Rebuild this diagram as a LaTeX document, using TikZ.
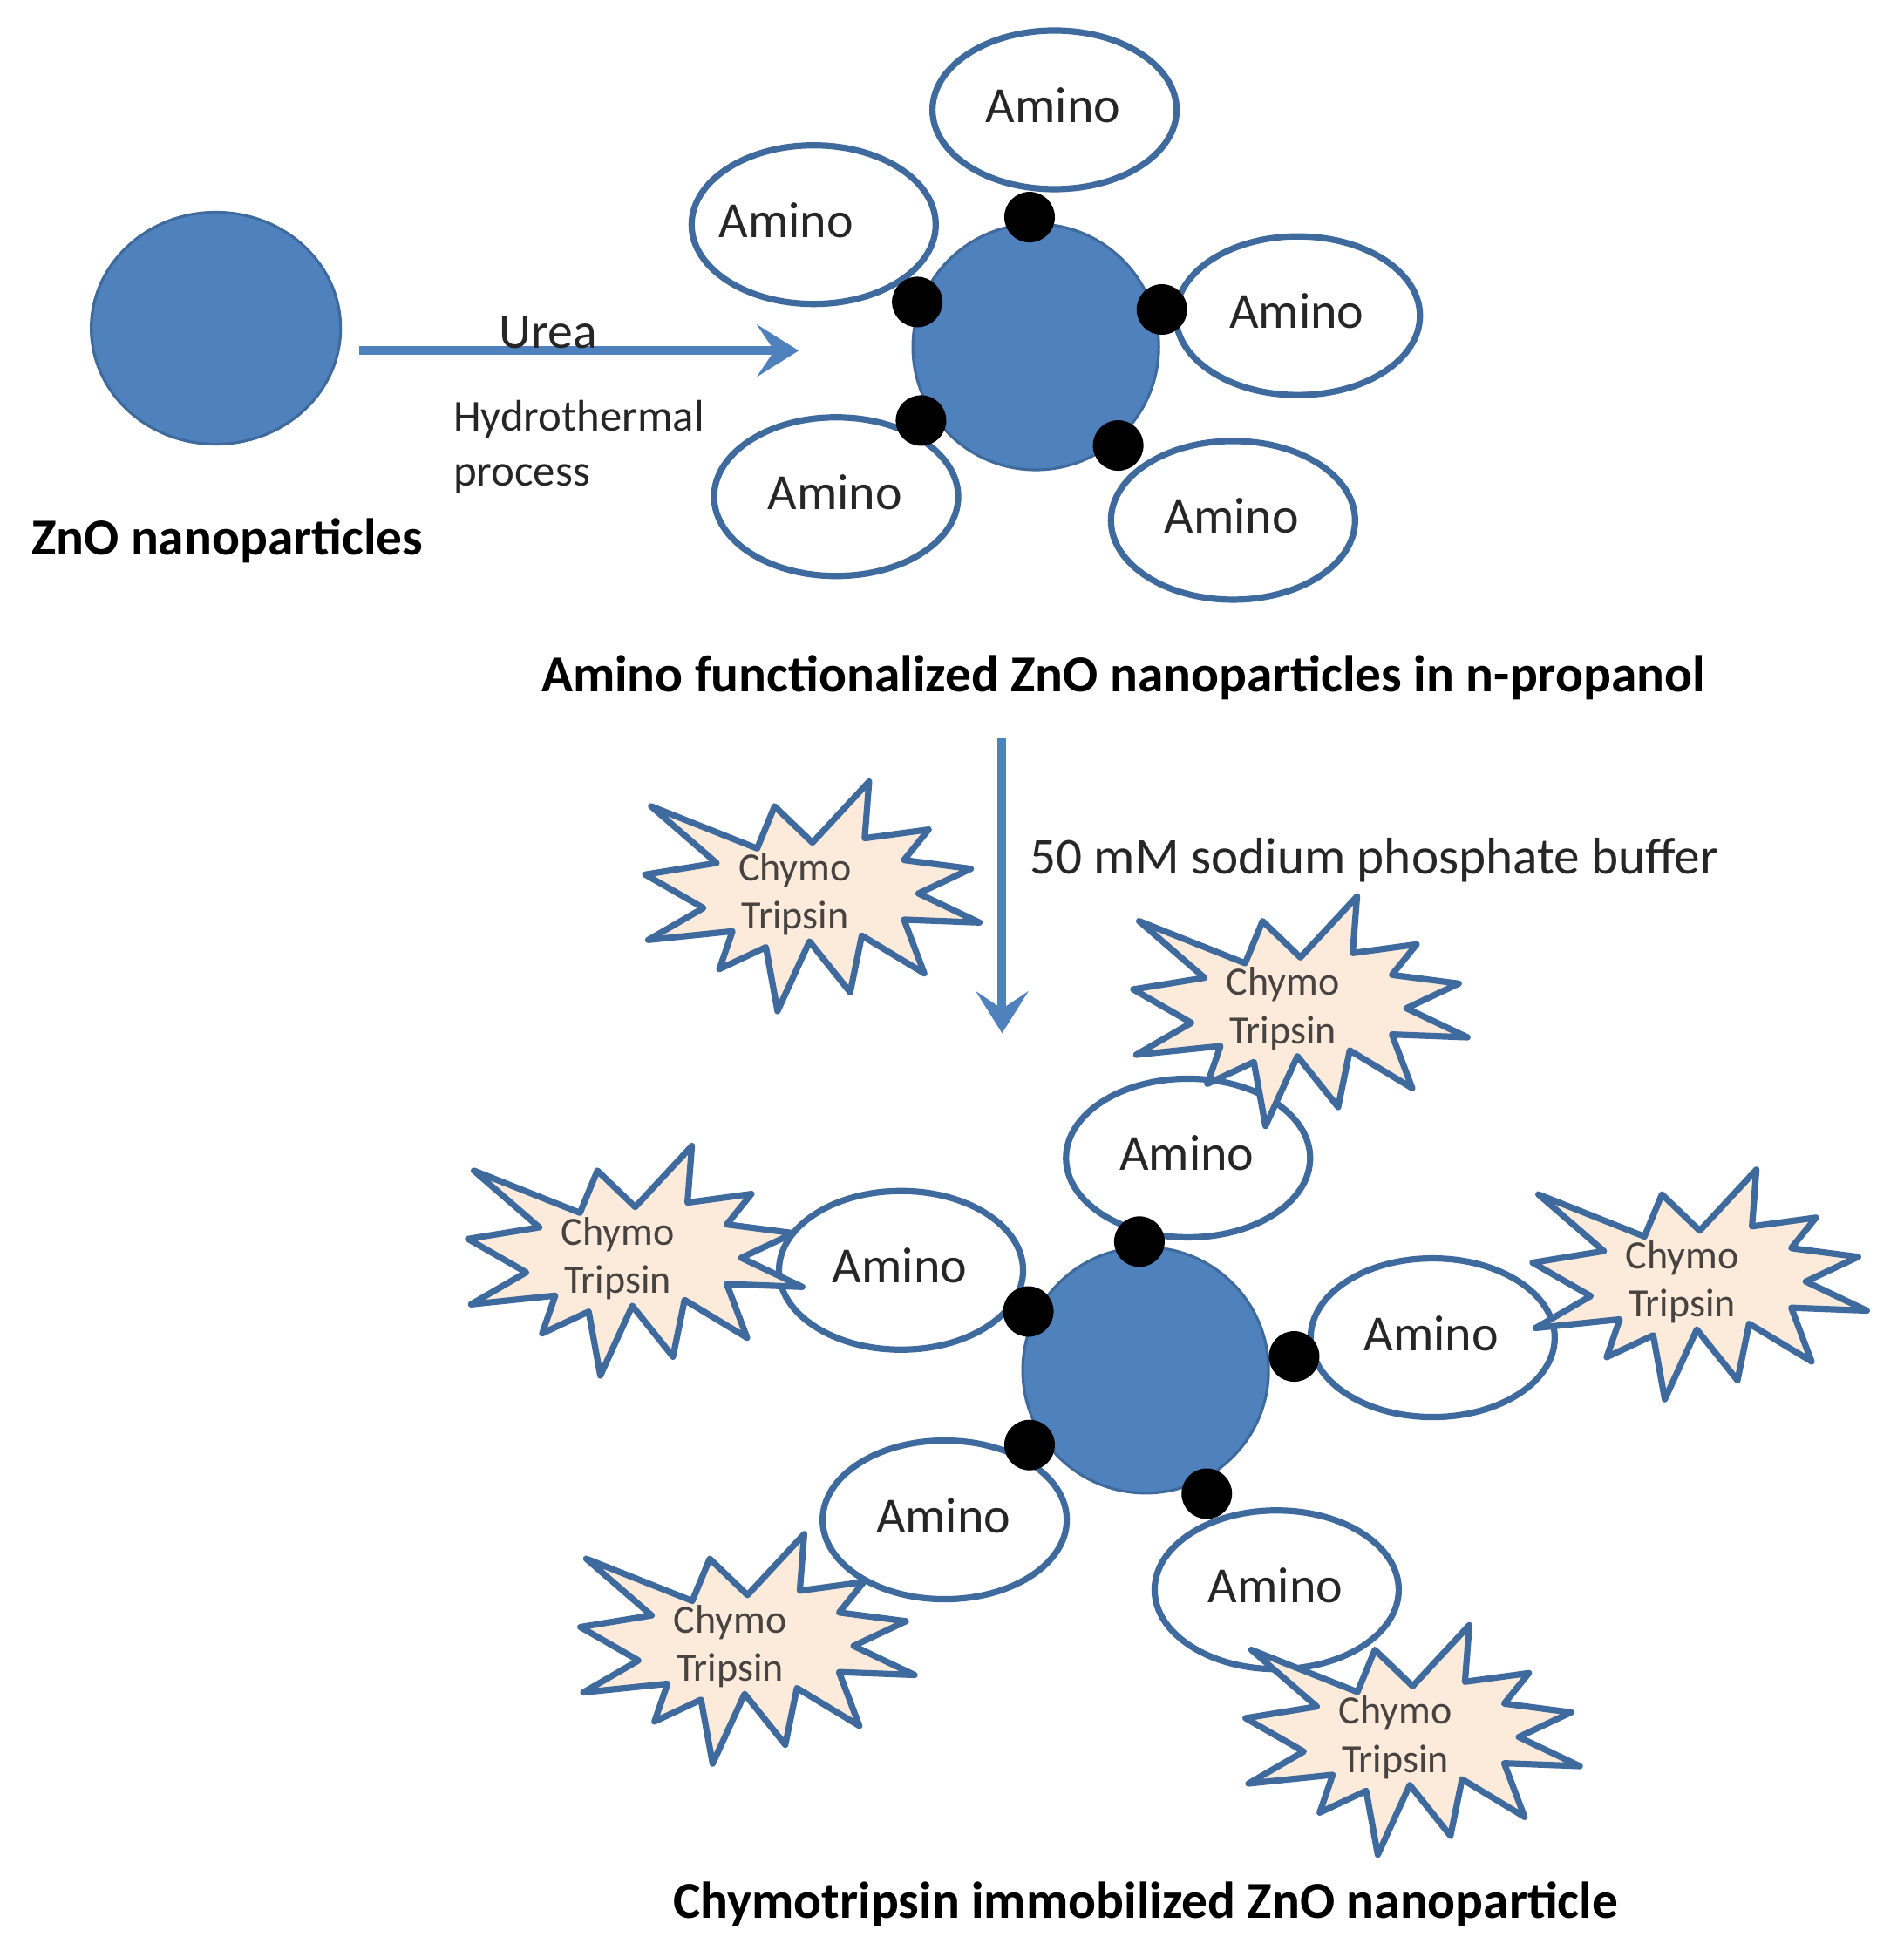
\documentclass[tikz,border=0pt]{standalone}
\usepackage{fontspec}
\setmainfont{Carlito}
\usetikzlibrary{arrows.meta,shapes.geometric}
\definecolor{zn}{HTML}{4F81BD}
\definecolor{edge}{HTML}{3F6A9E}
\definecolor{starfill}{HTML}{FCEADB}
\definecolor{ink}{HTML}{262626}
\newcommand{\fsz}[1]{\fontsize{#1}{#1}\selectfont}
\newcommand{\amtext}{\raisebox{5.5pt}{\hspace*{-1.5pt}Amino}}
\newcommand{\burst}{(85,140) -- (450,285) -- (510,140) -- (640,265) -- (835,55) -- (820,250) -- (1040,220) -- (955,325) -- (1185,355) -- (1005,440) -- (1215,540) -- (955,530) -- (1025,715) -- (810,585) -- (770,780) -- (630,605) -- (520,845) -- (480,625) -- (320,700) -- (365,570) -- (75,600) -- (265,490) -- (65,375) -- (310,335) -- cycle}
\tikzset{
  core/.style={circle,draw=edge,line width=1.6pt,fill=zn,minimum size=141pt,inner sep=0pt},
  amino/.style={ellipse,draw=edge,line width=3.6pt,fill=white,minimum width=140pt,minimum height=91pt,inner sep=0pt,text=ink,font=\fsz{29}},
  dot/.style={circle,fill=black,minimum size=29pt,inner sep=0pt},
  flow/.style={draw=zn,line width=5pt,-{Stealth[length=24pt,width=30pt,inset=10pt]}},
  note/.style={text=ink,anchor=west,inner sep=0pt},
  title/.style={text=black,font=\fsz{29.7}\bfseries,inner sep=0pt},
  chymo/.style={text=ink!85!starfill,font=\fsz{23},align=center,inner sep=0pt},
  burstline/.style={draw=edge,line width=3.6pt,fill=starfill,line join=round}
}
\newcommand{\chym}[3]{%
  \begin{scope}[shift={(#1,#2)},scale=0.2329,shift={(-580,-440)}]
    \path[burstline] \burst;
  \end{scope}
  \node[chymo] (#3a) at (#1,#2-19) {Chymo};
  \node[chymo] (#3b) at (#1,#2+20) {Tripsin};
}
\begin{document}
\begin{tikzpicture}[x=0.7157pt,y=-0.7157pt]
\useasboundingbox (0,0) rectangle (1525,1568.3);
% first particle
\node[core,ellipse,minimum width=143pt,minimum height=133pt] (zno) at (173,263) {};
\node[title,anchor=west] (znolabel) at (25,433) {ZnO nanoparticles};
% amino particle
\node[amino] (a1) at (845,88) {\amtext};
\node[amino] (a2) at (652,180) {\hspace*{-30pt}\amtext};
\node[amino] (a3) at (1040,253) {\amtext};
\node[amino] (a4) at (670,398) {\amtext};
\node[amino] (a5) at (988,417) {\amtext};
\node[core] (c1) at (830,278) {};
\node[dot] (d1) at (825,174) {};
\node[dot] (d2) at (735,242) {};
\node[dot] (d3) at (931,248) {};
\node[dot] (d4) at (738,337) {};
\node[dot] (d5) at (896,357) {};
\node[title] (c1label) at (900,543) {Amino functionalized ZnO nanoparticles in n-propanol};
% arrow one
\coordinate (u1) at (288,281);
\coordinate (u2) at (640,281);
\draw[flow] (u1) -- (u2);
\node[text=ink,font=\fsz{28.8},inner sep=0pt] (urea) at (439,266) {Urea};
\node[note,font=\fsz{25.4}] (hy) at (363,336) {Hydrothermal};
\node[note,font=\fsz{25.4}] (pr) at (363,384) {process};
% arrow two
\coordinate (v1) at (803,592);
\coordinate (v2) at (803,828);
\draw[flow] (v1) -- (v2);
\node[note,font=\fsz{29.6}] (buffer) at (825,689) {50 mM sodium phosphate buffer};
% bottom particle
\node[amino] (b1) at (952,928) {\amtext};
\node[amino] (b2) at (722,1018) {\amtext};
\node[amino] (b3) at (1148,1072) {\amtext};
\node[amino] (b4) at (757,1218) {\amtext};
\node[amino] (b5) at (1023,1274) {\amtext};
\node[core] (c2) at (918,1098) {};
\node[dot] (e1) at (913,995) {};
\node[dot] (e2) at (824,1051) {};
\node[dot] (e3) at (1037,1087) {};
\node[dot] (e4) at (825,1158) {};
\node[dot] (e5) at (967,1197) {};
\chym{637}{716}{s1}
\chym{1028}{808}{s2}
\chym{495}{1008}{s3}
\chym{1348}{1027}{s4}
\chym{585}{1319}{s5}
\chym{1118}{1392}{s6}
\node[title] (c2label) at (918,1526) {Chymotripsin immobilized ZnO nanoparticle};
\end{tikzpicture}
\end{document}
